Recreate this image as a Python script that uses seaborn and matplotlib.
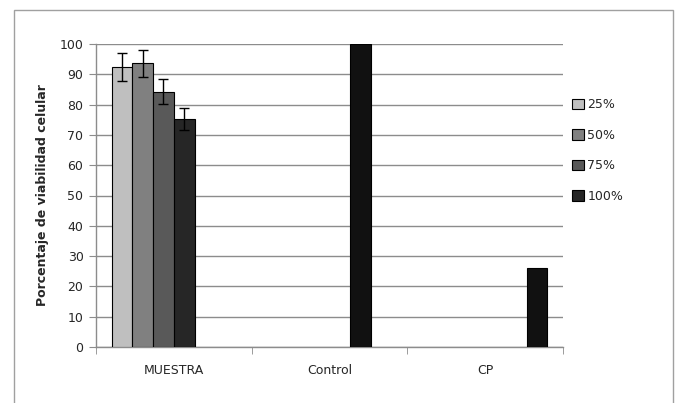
import numpy as np
import pandas as pd
import seaborn as sns
import matplotlib.pyplot as plt
from matplotlib.patches import Rectangle

# data
categories = ["MUESTRA", "Control", "CP"]
hue_levels = ["25%", "50%", "75%", "100%", "Control", "CP"]
legend_levels = ["25%", "50%", "75%", "100%"]
muestra_vals = [92.3, 93.6, 84.2, 75.3]
muestra_err = [4.6, 4.5, 4.1, 3.7]
control_val = 100
cp_val = 26

colors = {"25%": "#bfbfbf", "50%": "#808080", "75%": "#595959", "100%": "#262626",
          "Control": "#111111", "CP": "#111111"}

rows = []
for h, v in zip(legend_levels, muestra_vals):
    rows.append({"Grupo": "MUESTRA", "Conc": h, "Valor": v})
rows.append({"Grupo": "Control", "Conc": "Control", "Valor": control_val})
rows.append({"Grupo": "CP", "Conc": "CP", "Valor": cp_val})
df = pd.DataFrame(rows)

sns.set_style("white")
plt.rcParams['font.family'] = ['DejaVu Sans']

fig = plt.figure(figsize=(6.76, 4.03), dpi=100)
ax = fig.add_axes([96 / 676, 1 - 347 / 403, (563 - 96) / 676, (347 - 44) / 403])

sns.barplot(data=df, x="Grupo", y="Valor", hue="Conc", order=categories,
            hue_order=hue_levels, palette=colors, width=0.8, gap=0,
            edgecolor="black", linewidth=0.8, saturation=1, ax=ax, zorder=3)

# error bars on MUESTRA group
xs = [c[0].get_x() + c[0].get_width() / 2 for c in ax.containers[:4]]
ax.errorbar(xs, muestra_vals, yerr=muestra_err, fmt="none", ecolor="black",
            elinewidth=1, capsize=3.5, capthick=1, zorder=4)

ax.set_ylim(0, 100)
ax.set_xlim(-0.5, 2.5)
ax.set_yticks(np.arange(0, 101, 10))
ax.yaxis.grid(True, color="#8c8c8c", linewidth=1)
ax.set_axisbelow(True)
ax.set_xlabel("")
ax.set_ylabel("Porcentaje de viabilidad celular", fontsize=9, fontweight="bold", labelpad=8)

for s in ["top", "right"]:
    ax.spines[s].set_visible(False)
for s in ["left", "bottom"]:
    ax.spines[s].set_color("#8c8c8c")
    ax.spines[s].set_linewidth(1)

ax.tick_params(axis="y", left=True, length=5, color="#8c8c8c", labelsize=9, pad=4)
ax.set_xticks([0, 1, 2])
ax.set_xticklabels(categories)
ax.tick_params(axis="x", bottom=False, labelsize=9, pad=9)
ax.set_xticks([-0.5, 0.5, 1.5, 2.5], minor=True)
ax.tick_params(axis="x", which="minor", bottom=True, length=5, color="#8c8c8c")

handles, labels = ax.get_legend_handles_labels()
ax.get_legend().remove()
fig.legend(handles[:4], labels[:4], loc="upper left", bbox_to_anchor=(561 / 676, 1 - 87 / 403),
           frameon=False, fontsize=9, handlelength=0.9, handleheight=0.9,
           handletextpad=0.3, labelspacing=1.4)

fig.patches.append(Rectangle((14 / 676, -0.05), (673 - 14) / 676, 1.05 - 10 / 403,
                             transform=fig.transFigure, fill=False,
                             edgecolor="#a0a0a0", linewidth=1))

fig.savefig("out.png", dpi=100)
